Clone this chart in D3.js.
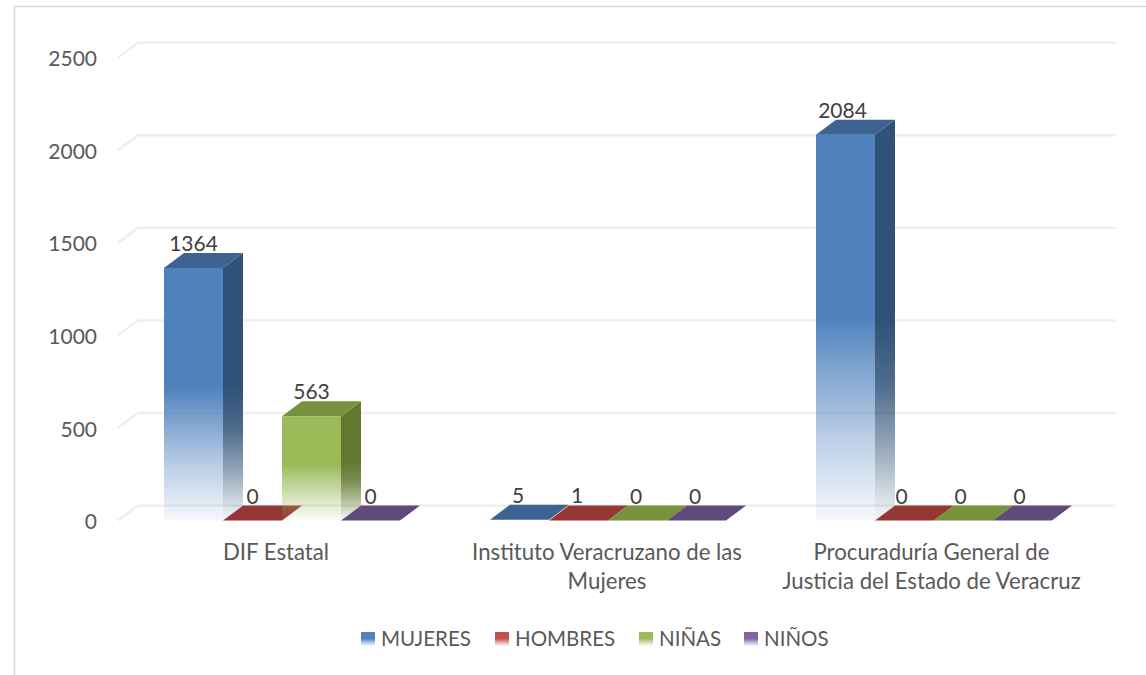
<!DOCTYPE html>
<html>
<head>
<meta charset="utf-8">
<script src="https://cdn.jsdelivr.net/npm/d3@7"></script>
<style>
html,body{margin:0;padding:0;background:#fff;overflow:hidden}
text{font-family:Lato,"Open Sans",sans-serif}
</style>
</head>
<body>
<svg id="chart" width="1146" height="675"></svg>
<script>
const categories = [["DIF Estatal"],["Instituto Veracruzano de las","Mujeres"],["Procuraduría General de","Justicia del Estado de Veracruz"]];
const seriesNames = ["MUJERES","HOMBRES","NIÑAS","NIÑOS"];
const mujeres = [1364,5,2084];
const hombres = [0,1,0];
const ninas = [563,0,0];
const ninos = [0,0,0];
const seriesValues = [mujeres,hombres,ninas,ninos];
const yTicks = [0,500,1000,1500,2000,2500];
const frontColors = ["#4f81bd","#c0504d","#9bbb59","#8064a2"];
const topColors = ["#3c6391","#953735","#76923c","#604a7b"];
const sideColors = ["#2f5278","#7a2e2c","#62772f","#4f3d66"];

const W=1146,H=675, dx=20, dy=15;
const svg=d3.select("#chart");
const y=d3.scaleLinear().domain([0,2500]).range([520.6,57.6]);
const x0=d3.scaleBand().domain(d3.range(categories.length)).range([119,1097]);
const barBand=236;
const x1=d3.scaleBand().domain(d3.range(seriesNames.length)).range([0,barBand]);
const xBar=(c,s)=>x0(c)+(x0.bandwidth()-barBand)/2+x1(s);
const catLabelShift=[-6,-1,-2.5];

const defs=svg.append("defs");
function grad(id,color,stops){
  const g=defs.append("linearGradient").attr("id",id).attr("x1",0).attr("y1",0).attr("x2",0).attr("y2",1);
  stops.forEach(([o,a])=>
    g.append("stop").attr("offset",o).attr("stop-color",color).attr("stop-opacity",a));
}
const frontStops=[[0,1],[.47,1],[.6,.74],[.8,.36],[1,.05]];
const sideStops=[[0,1],[.5,1],[.66,.85],[.82,.5],[1,.04]];
frontColors.forEach((c,i)=>grad("f"+i,c,frontStops));
sideColors.forEach((c,i)=>grad("s"+i,c,sideStops));

// outer frame
svg.append("path").attr("d",`M14.5,${H}V6.5H${W}`).attr("fill","none").attr("stroke","#d9d9d9").attr("stroke-width",1.6);

// gridlines
const gridG=svg.append("g");
yTicks.forEach(t=>{
  const yy=y(t);
  gridG.append("path")
    .attr("d",`M118,${yy}L138,${yy-dy}H1116`)
    .attr("fill","none").attr("stroke","#eeeeee").attr("stroke-width",2.4);
});

// y axis labels
svg.append("g").selectAll("text").data(yTicks).join("text")
  .attr("x",97).attr("y",d=>y(d)+8.5).attr("text-anchor","end")
  .attr("font-size",21).attr("fill","#595959").text(d=>d);

// bars
const poly=pts=>"M"+pts.map(p=>p.join(",")).join("L")+"Z";
const bw=x1.bandwidth();
const barsG=svg.append("g");
categories.forEach((cat,c)=>{
  seriesNames.forEach((nm,s)=>{
    const v=seriesValues[s][c], xl=xBar(c,s), yt=y(v), yb=y(0);
    const g=barsG.append("g");
    if(v>0 && yb-yt>2){
      g.append("path").attr("d",poly([[xl+bw,yt],[xl+bw+dx,yt-dy],[xl+bw+dx,yb-dy],[xl+bw,yb]])).attr("fill",`url(#s${s})`);
      g.append("rect").attr("x",xl).attr("y",yt).attr("width",bw).attr("height",yb-yt).attr("fill",`url(#f${s})`);
    }
    g.append("path").attr("d",poly([[xl,yt],[xl+dx,yt-dy],[xl+bw+dx,yt-dy],[xl+bw,yt]])).attr("fill",topColors[s]);
  });
});

// data labels
const labelsG=svg.append("g");
categories.forEach((cat,c)=>{
  seriesNames.forEach((nm,s)=>{
    const v=seriesValues[s][c];
    labelsG.append("text")
      .attr("x",xBar(c,s)+bw/2-c*1.5).attr("y",y(v)-dy-2)
      .attr("text-anchor","middle").attr("font-size",21).attr("fill","#404040").text(v);
  });
});

// category labels
const catG=svg.append("g");
categories.forEach((lines,c)=>{
  const t=catG.append("text").attr("text-anchor","middle").attr("font-size",22.2).attr("fill","#595959");
  lines.forEach((ln,i)=>t.append("tspan").attr("x",x0(c)+x0.bandwidth()/2+catLabelShift[c]).attr("y",560+i*29).text(ln));
});

// legend
const legendX=[361,495,639,744];
const legG=svg.append("g");
seriesNames.forEach((nm,i)=>{
  legG.append("rect").attr("x",legendX[i]).attr("y",632).attr("width",14).attr("height",14).attr("fill",`url(#f${i})`);
  legG.append("text").attr("x",legendX[i]+20).attr("y",646).attr("font-size",20.5).attr("fill","#595959").text(nm);
});
</script>
</body>
</html>
